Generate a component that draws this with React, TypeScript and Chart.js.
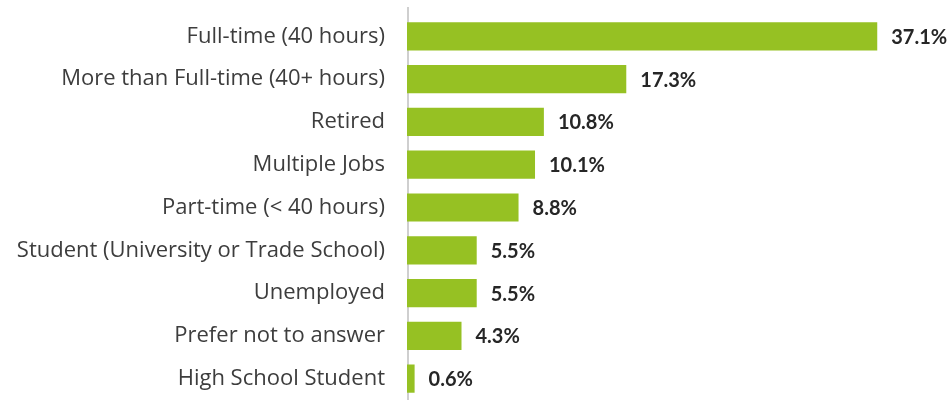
import React, { useEffect, useRef } from "react";
import { Chart, registerables } from "chart.js";

Chart.register(...registerables);

const categories = [
  "Full-time (40 hours)",
  "More than Full-time (40+ hours)",
  "Retired",
  "Multiple Jobs",
  "Part-time (< 40 hours)",
  "Student (University or Trade School)",
  "Unemployed",
  "Prefer not to answer",
  "High School Student",
];
const values = [37.1, 17.3, 10.8, 10.1, 8.8, 5.5, 5.5, 4.3, 0.6];

const LABEL_FONT = "'Open Sans', sans-serif";
const VALUE_FONT = "Lato, sans-serif";

const valueLabels = {
  id: "valueLabels",
  afterDatasetsDraw(chart: any) {
    const ctx = chart.ctx;
    const meta = chart.getDatasetMeta(0);
    ctx.save();
    ctx.font = `bold 20px ${VALUE_FONT}`;
    ctx.fillStyle = "#262626";
    ctx.textAlign = "left";
    ctx.textBaseline = "middle";
    meta.data.forEach((bar: any, i: number) => {
      ctx.fillText(values[i].toFixed(1) + "%", bar.x + 14, bar.y + 1);
    });
    ctx.restore();
  },
};

const axisLine = {
  id: "axisLine",
  beforeDatasetsDraw(chart: any) {
    const ctx = chart.ctx;
    const x = chart.chartArea.left + 1;
    ctx.save();
    ctx.strokeStyle = "#cfcfcf";
    ctx.lineWidth = 2;
    ctx.beginPath();
    ctx.moveTo(x, 7);
    ctx.lineTo(x, 400);
    ctx.stroke();
    ctx.restore();
  },
};

export default function App() {
  const ref = useRef<HTMLCanvasElement>(null);
  useEffect(() => {
    document.body.style.margin = "0";
    const chart = new Chart(ref.current!, {
      type: "bar",
      data: {
        labels: categories,
        datasets: [
          {
            data: values,
            backgroundColor: "#96c123",
            borderWidth: 0,
            categoryPercentage: 1,
            barPercentage: 0.66,
          },
        ],
      },
      options: {
        indexAxis: "y",
        animation: false,
        responsive: false,
        maintainAspectRatio: false,
        layout: { padding: { top: 15, bottom: 0, right: 37, left: 0 } },
        plugins: { legend: { display: false }, tooltip: { enabled: false } },
        scales: {
          x: { display: false, min: 0, max: 40 },
          y: {
            grid: { display: false, drawTicks: false },
            border: { display: false },
            ticks: {
              padding: 22,
              color: "#3d3d3d",
              font: { family: LABEL_FONT, size: 22 },
            },
            afterFit(scale: any) {
              scale.width = 407;
              scale.paddingTop = 0;
              scale.paddingBottom = 0;
            },
          },
        },
      },
      plugins: [axisLine, valueLabels],
    });
    return () => chart.destroy();
  }, []);
  return <canvas ref={ref} width={951} height={400} style={{ display: "block" }} />;
}
